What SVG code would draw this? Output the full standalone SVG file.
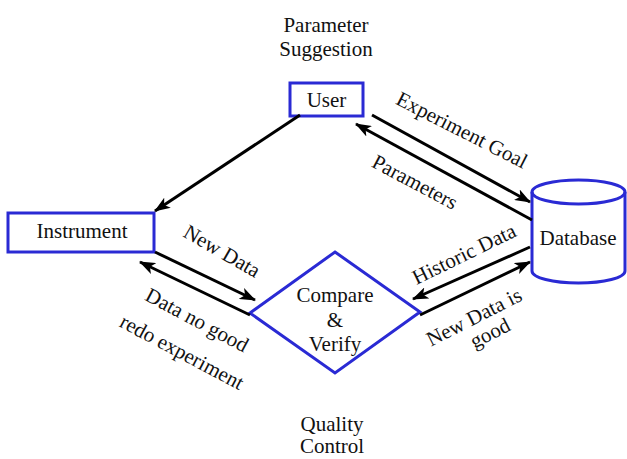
<svg xmlns="http://www.w3.org/2000/svg" width="627" height="459" viewBox="0 0 627 459">
  <style>
    .box { fill: #ffffff; stroke: #2a2ad4; stroke-width: 3; }
    .lbl { font-family: "Liberation Serif", "Times New Roman", serif; font-size: 21px; fill: #111111; text-anchor: middle; }
    .edge { stroke: #000000; stroke-width: 3; fill: none; marker-end: url(#arrow); }
  </style>
  <defs>
    <marker id="arrow" viewBox="0 0 16 12" refX="15" refY="6" markerWidth="16" markerHeight="12" markerUnits="userSpaceOnUse" orient="auto">
      <path d="M0,0 L16,6 L0,12 L4,6 z" fill="#000000"/>
    </marker>
  </defs>
  <rect width="627" height="459" fill="#ffffff"/>

  <!-- free-standing captions -->
  <text class="lbl" x="326" y="32">Parameter</text>
  <text class="lbl" x="326" y="56">Suggestion</text>
  <text class="lbl" x="332" y="431">Quality</text>
  <text class="lbl" x="332" y="453">Control</text>

  <!-- nodes -->
  <g id="user">
    <rect class="box" x="290" y="83" width="73" height="33"/>
    <text class="lbl" x="326.5" y="107">User</text>
  </g>
  <g id="instrument">
    <rect class="box" x="8" y="213" width="146" height="39"/>
    <text class="lbl" x="82" y="238">Instrument</text>
  </g>
  <g id="compare">
    <polygon class="box" points="335,252 420,312 335,373 250,313"/>
    <text class="lbl" x="335" y="302">Compare</text>
    <text class="lbl" x="335" y="327">&amp;</text>
    <text class="lbl" x="335" y="351">Verify</text>
  </g>
  <g id="database">
    <path class="box" d="M532,192 L532,271 A46.5,12 0 0 0 625,271 L625,192 A46.5,12 0 0 0 532,192 Z"/>
    <path d="M532,192 A46.5,12 0 0 0 625,192" fill="none" stroke="#2a2ad4" stroke-width="3"/>
    <text class="lbl" x="578" y="245">Database</text>
  </g>

  <!-- connectors -->
  <g id="connectors">
    <line class="edge" x1="300" y1="115" x2="155" y2="211"/>
    <line class="edge" x1="372" y1="115" x2="530" y2="202"/>
    <line class="edge" x1="532" y1="220" x2="356" y2="124"/>
    <line class="edge" x1="530" y1="247" x2="413" y2="299"/>
    <line class="edge" x1="420" y1="315" x2="530" y2="262"/>
    <line class="edge" x1="155" y1="252" x2="255" y2="300"/>
    <line class="edge" x1="250" y1="315" x2="140" y2="262"/>

    <text class="lbl" transform="translate(462,130) rotate(27)" y="7">Experiment Goal</text>
    <text class="lbl" transform="translate(415,182) rotate(28)" y="7">Parameters</text>
    <text class="lbl" transform="translate(222,251) rotate(30)" y="7">New Data</text>
    <text class="lbl" transform="translate(197,320) rotate(28)" y="7">Data no good</text>
    <text class="lbl" transform="translate(182,352) rotate(28)" y="7">redo experiment</text>
    <text class="lbl" transform="translate(464,254) rotate(-26)" y="7">Historic Data</text>
    <text class="lbl" transform="translate(474,317) rotate(-27)" y="7">New Data is</text>
    <text class="lbl" transform="translate(490,333) rotate(-27)" y="7">good</text>
  </g>
</svg>
